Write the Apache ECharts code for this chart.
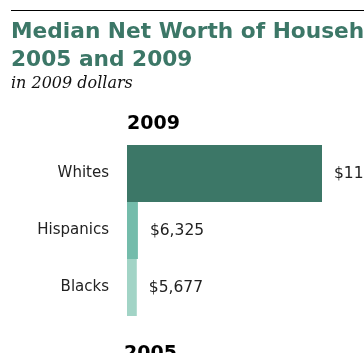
<!DOCTYPE html>
<html><head><meta charset="utf-8">
<script src="https://cdn.jsdelivr.net/npm/echarts@6/dist/echarts.min.js"></script>
<style>html,body{margin:0;padding:0;background:#fff}#c{width:364px;height:353px}</style>
</head><body><div id="c"></div>
<script>
const categories = ["Whites", "Hispanics", "Blacks"];
const values2009 = [113149, 6325, 5677];
const barColors = ["#3c7767", "#74bcab", "#a2d4c6"];
const titleLines = ["Median Net Worth of Households, by Race and Ethnicity,", "2005 and 2009"];
const subtitle = "in 2009 dollars";
const panelLabels = ["2009", "2005"];

const chart = echarts.init(document.getElementById('c'));
chart.setOption({
  animation: false,
  backgroundColor: '#fff',
  grid: { left: 127, top: 145, width: 195, height: 171 },
  xAxis: { type: 'value', min: 0, max: values2009[0], show: false },
  yAxis: {
    type: 'category', data: categories, inverse: true,
    axisLine: { show: false }, axisTick: { show: false },
    axisLabel: { margin: 18, color: '#222', fontFamily: 'DejaVu Sans', fontSize: 15 }
  },
  series: [{
    type: 'bar', barWidth: '100%', barGap: '0%',
    data: values2009.map((v, i) => ({ value: v, itemStyle: { color: barColors[i] } })),
    label: {
      show: true, position: 'right', distance: 12, color: '#222',
      fontFamily: 'DejaVu Sans', fontSize: 15.5,
      formatter: p => '$' + p.value.toLocaleString('en-US')
    }
  }],
  graphic: [
    { type: 'line', shape: { x1: 11, y1: 10.5, x2: 364, y2: 10.5 }, style: { stroke: '#000', lineWidth: 1 } },
    { type: 'text', left: 11, top: 21, style: { text: titleLines[0], fill: '#3c7767', font: 'bold 21.7px "DejaVu Sans"' } },
    { type: 'text', left: 11, top: 49, style: { text: titleLines[1], fill: '#3c7767', font: 'bold 21.7px "DejaVu Sans"' } },
    { type: 'text', left: 11, top: 76, style: { text: subtitle, fill: '#111', font: 'italic 16px "DejaVu Serif"' } },
    { type: 'text', left: 127, top: 115, style: { text: panelLabels[0], fill: '#000', font: 'bold 19px "DejaVu Sans"' } },
    { type: 'text', left: 124, top: 345, style: { text: panelLabels[1], fill: '#000', font: 'bold 19px "DejaVu Sans"' } }
  ]
});
</script></body></html>
